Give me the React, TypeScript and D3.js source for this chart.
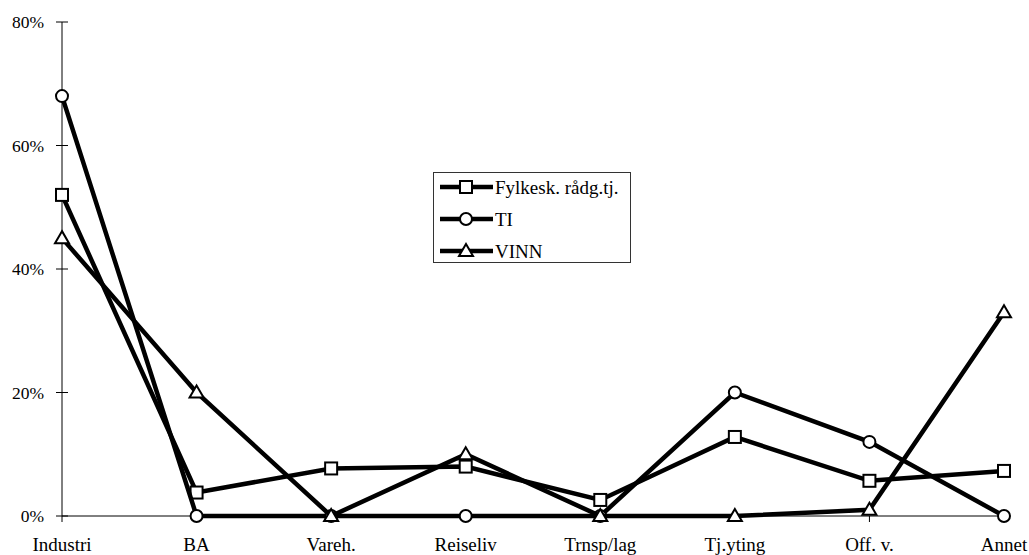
import * as d3 from 'd3';
import React, { useEffect, useRef } from 'react';

const categories = ['Industri', 'BA', 'Vareh.', 'Reiseliv', 'Trnsp/lag', 'Tj.yting', 'Off. v.', 'Annet'];
const fylkesk = [0.52, 0.038, 0.077, 0.08, 0.026, 0.128, 0.057, 0.073];
const ti = [0.68, 0, 0, 0, 0, 0.2, 0.12, 0];
const vinn = [0.45, 0.2, 0, 0.1, 0, 0, 0.01, 0.33];
const seriesNames = ['Fylkesk. rådg.tj.', 'TI', 'VINN'];
const markerTypes = ['square', 'circle', 'triangle'];
const yTicks = [0, 0.2, 0.4, 0.6, 0.8];

const App = () => {
  const ref = useRef();

  useEffect(() => {
    const svg = d3.select(ref.current);
    svg.selectAll('*').remove();

    const x = d3.scalePoint().domain(categories).range([62, 1004]);
    const y = d3.scaleLinear().domain([0, 0.8]).range([516, 22]);
    const font = '"Liberation Serif", "Times New Roman", serif';

    // y axis, ticks cross the line
    svg.append('line').attr('x1', 62).attr('x2', 62).attr('y1', y(0.8)).attr('y2', y(0))
      .attr('stroke', '#000').attr('stroke-width', 1);
    yTicks.forEach(t => {
      svg.append('line').attr('x1', 56).attr('x2', 68).attr('y1', y(t)).attr('y2', y(t))
        .attr('stroke', '#000');
      svg.append('text').attr('x', 44).attr('y', y(t)).attr('dy', '0.35em')
        .attr('text-anchor', 'end').attr('font-family', font).attr('font-size', 17.5)
        .text(d3.format('.0%')(t));
    });

    // x axis
    svg.append('line').attr('x1', 62).attr('x2', 1004).attr('y1', y(0)).attr('y2', y(0))
      .attr('stroke', '#000');
    categories.forEach(c => {
      svg.append('line').attr('x1', x(c)).attr('x2', x(c)).attr('y1', y(0)).attr('y2', y(0) + 6)
        .attr('stroke', '#000');
      svg.append('text').attr('x', x(c)).attr('y', 551).attr('text-anchor', 'middle')
        .attr('font-family', font).attr('font-size', 19).text(c);
    });

    const drawMarker = (g, type, cx, cy) => {
      if (type === 'square') {
        g.append('rect').attr('x', cx - 6).attr('y', cy - 6).attr('width', 12).attr('height', 12)
          .attr('fill', '#fff').attr('stroke', '#000').attr('stroke-width', 2);
      } else if (type === 'circle') {
        g.append('circle').attr('cx', cx).attr('cy', cy).attr('r', 6)
          .attr('fill', '#fff').attr('stroke', '#000').attr('stroke-width', 2);
      } else {
        g.append('path').attr('d', `M${cx},${cy - 7}L${cx + 7},${cy + 5}L${cx - 7},${cy + 5}Z`)
          .attr('fill', '#fff').attr('stroke', '#000').attr('stroke-width', 2);
      }
    };

    const line = d3.line().x((d, i) => x(categories[i])).y(d => y(d));
    [fylkesk, ti, vinn].forEach((vals, s) => {
      const g = svg.append('g');
      g.append('path').attr('d', line(vals)).attr('fill', 'none').attr('stroke', '#000')
        .attr('stroke-width', 4.5);
      vals.forEach((v, i) => drawMarker(g, markerTypes[s], x(categories[i]), y(v)));
    });

    // legend
    const lg = svg.append('g');
    lg.append('rect').attr('x', 433.5).attr('y', 172.5).attr('width', 197).attr('height', 90)
      .attr('fill', '#fff').attr('stroke', '#333').attr('stroke-width', 1);
    seriesNames.forEach((n, i) => {
      const ly = 187 + i * 32;
      lg.append('line').attr('x1', 440).attr('x2', 493).attr('y1', ly).attr('y2', ly)
        .attr('stroke', '#000').attr('stroke-width', 4.5);
      drawMarker(lg, markerTypes[i], 466, ly);
      lg.append('text').attr('x', 495).attr('y', ly).attr('dy', '0.35em')
        .attr('font-family', font).attr('font-size', 19).text(n);
    });
  }, []);

  return (
    <svg ref={ref} width={1029} height={555}
      style={{ position: 'absolute', left: 0, top: 0, background: '#fff' }}></svg>
  );
};

export default App;
